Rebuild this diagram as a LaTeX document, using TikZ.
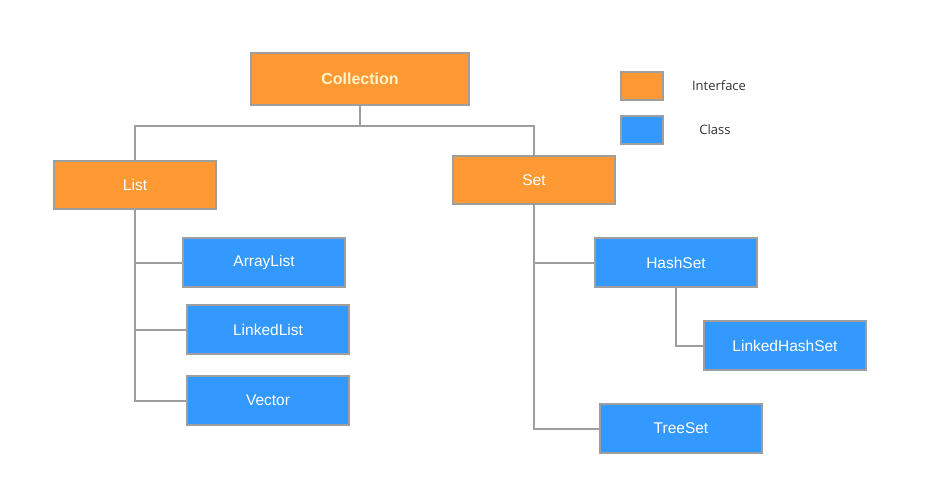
\documentclass[tikz,border=0pt]{standalone}
\usepackage{fontspec}
\setmainfont{Liberation Sans}
\newfontfamily\legendfont{Open Sans}
\definecolor{ifc}{HTML}{FF9933}
\definecolor{clc}{HTML}{3399FF}
\definecolor{bord}{HTML}{9E9E9E}
\definecolor{collt}{HTML}{FFF3C8}
\definecolor{legt}{HTML}{333333}
\tikzset{
  box/.style={draw=bord, line width=2pt, inner sep=0pt, text=white, font=\fontsize{15.5}{18}\selectfont},
  ifbox/.style={box, fill=ifc},
  clbox/.style={box, fill=clc},
  conn/.style={draw=bord, line width=2pt},
  legtext/.style={text=legt, font=\legendfont\fontsize{13}{15}\selectfont}
}
\newcommand{\bx}[7]{% name, style, x1,y1,x2,y2, text
  \node[#2, minimum width={#5-#3}, minimum height={#6-#4}] (#1) at ({(#3+#5)/2},{(#4+#6)/2}) {#7};}
\begin{document}
\begin{tikzpicture}[x=1pt,y=-1pt]
\useasboundingbox (0,0) rectangle (939,493);
\fill[white] (0,0) rectangle (939,493);
\bx{coll}{ifbox,text=collt,font=\bfseries\fontsize{16}{19}\selectfont}{251}{53}{469}{105}{Collection}
\bx{list}{ifbox}{54}{161}{216}{209}{List}
\bx{set}{ifbox}{453}{156}{615}{204}{Set}
\bx{al}{clbox}{183}{238}{345}{287}{ArrayList}
\bx{ll}{clbox}{187}{305}{349}{354}{LinkedList}
\bx{vec}{clbox}{187}{376}{349}{425}{Vector}
\bx{hs}{clbox}{595}{238}{757}{287}{HashSet}
\bx{lhs}{clbox}{704}{321}{866}{370}{LinkedHashSet}
\bx{ts}{clbox}{600}{404}{762}{453}{TreeSet}
\bx{legi}{ifbox}{621}{72}{663}{100}{}
\bx{legc}{clbox}{621}{116}{663}{144}{}
\node[legtext] (legit) at (719,86) {Interface};
\node[legtext] (legct) at (715,130) {Class};
\coordinate (bar) at (360,126);
\draw[conn] (coll.south) -- (bar);
\draw[conn] (list.north) |- (bar) -| (set.north);
\draw[conn] (list.south) |- (vec.west);
\draw[conn] (list.south) |- (al.west);
\draw[conn] (list.south) |- (ll.west);
\draw[conn] (set.south) |- (ts.west);
\draw[conn] (set.south) |- (hs.west);
\draw[conn] (hs.south) |- (lhs.west);
\end{tikzpicture}
\end{document}
